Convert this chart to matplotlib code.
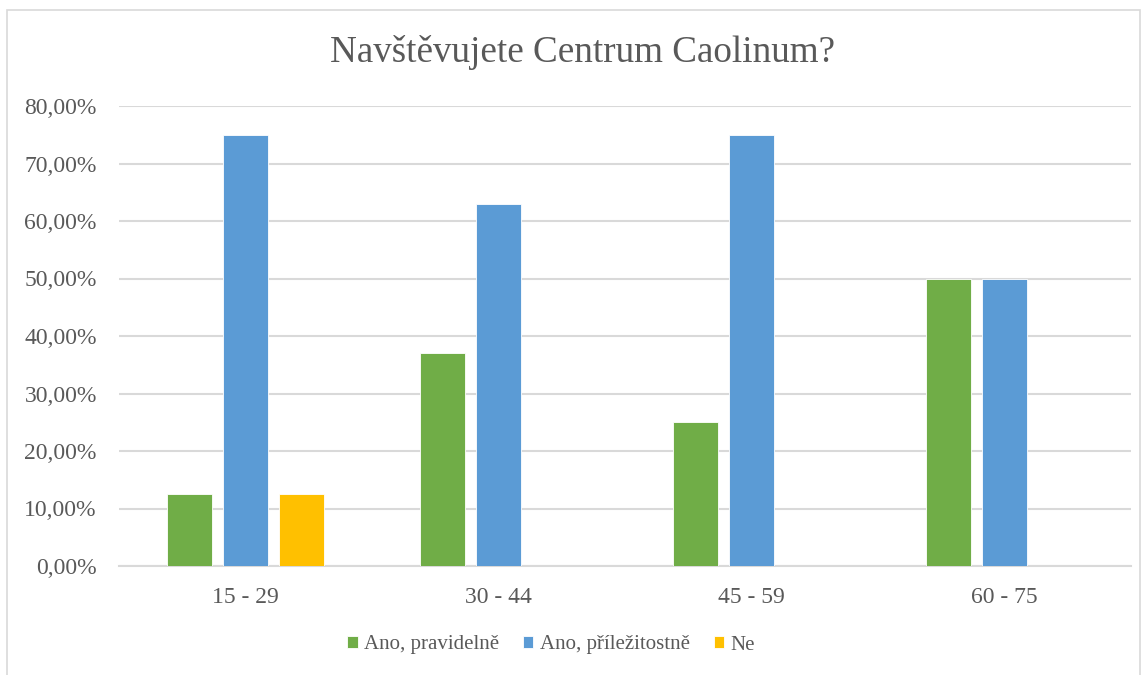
import numpy as np
import matplotlib.pyplot as plt
from matplotlib.patches import Rectangle
from matplotlib.ticker import FuncFormatter

# Data
categories = ['15 - 29', '30 - 44', '45 - 59', '60 - 75']
series_names = ['Ano, pravidelně', 'Ano, příležitostně', 'Ne']
pravidelne = [12.5, 37.0, 25.0, 50.0]
prilezitostne = [75.0, 63.0, 75.0, 50.0]
ne = [12.5, 0.0, 0.0, 0.0]
colors = ['#70AD47', '#5B9BD5', '#FFC000']

plt.rcParams['font.family'] = ['Liberation Serif', 'DejaVu Serif']
text_color = '#595959'

fig = plt.figure(figsize=(11.48, 6.75), dpi=100)
ax = fig.add_axes([119 / 1148, 1 - 566 / 675, 1012 / 1148, 460 / 675])

# chart area border
fig.patches.append(Rectangle((7 / 1148, -0.1), 1133 / 1148, 1.1 - 10 / 675,
                             transform=fig.transFigure, fill=False,
                             edgecolor='#D9D9D9', linewidth=1.2))

x = np.arange(len(categories))
step = 0.221
width = 0.178
for i, (vals, name, col) in enumerate(zip([pravidelne, prilezitostne, ne], series_names, colors)):
    ax.bar(x + (i - 1) * step, vals, width, color=col, label=name,
           edgecolor='white', linewidth=0.6, zorder=3)

ax.set_xlim(-0.5, len(categories) - 0.5)
ax.set_ylim(0, 80)
ax.set_yticks(np.arange(0, 81, 10))
ax.yaxis.set_major_formatter(FuncFormatter(lambda v, p: f'{v:.2f}'.replace('.', ',') + '%'))
ax.set_xticks(x)
ax.set_xticklabels(categories)
ax.grid(axis='y', color='#D9D9D9', linewidth=1.5, zorder=0)
for s in ['top', 'right', 'left']:
    ax.spines[s].set_visible(False)
ax.spines['bottom'].set_color('#D9D9D9')
ax.spines['bottom'].set_linewidth(1.5)
ax.tick_params(axis='both', length=0, labelsize=17, labelcolor=text_color)
ax.tick_params(axis='x', pad=15)
ax.tick_params(axis='y', pad=16)

fig.text(582 / 1148, 1 - 53 / 675, 'Navštěvujete Centrum Caolinum?', ha='center', va='center',
         fontsize=26.7, color=text_color)

leg = fig.legend(loc='center', bbox_to_anchor=(551 / 1148, 1 - 645 / 675), ncol=3, frameon=False,
                 fontsize=15, handlelength=0.5, handleheight=0.5, handletextpad=0.3,
                 columnspacing=1.15)
for t in leg.get_texts():
    t.set_color(text_color)

fig.savefig('out.png', dpi=100)
